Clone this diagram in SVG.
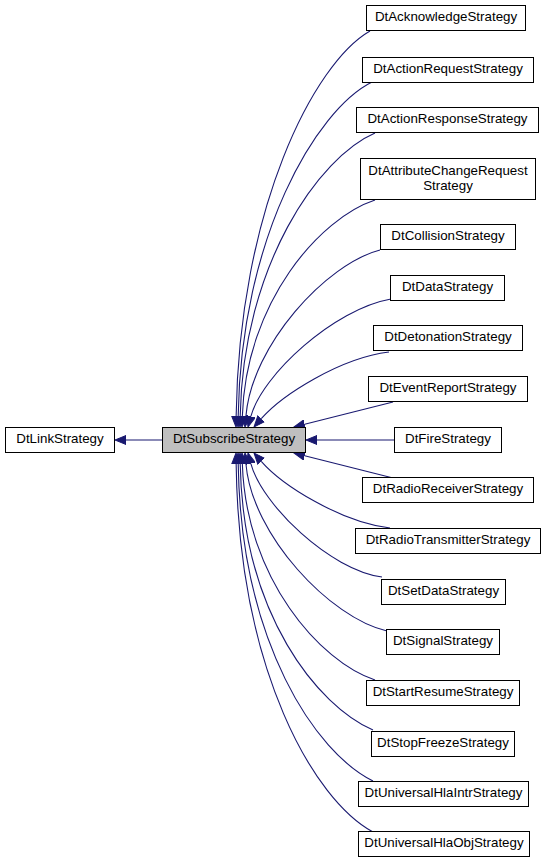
<svg xmlns="http://www.w3.org/2000/svg" width="547" height="864" viewBox="0 0 547 864">
<style>
.node rect{fill:#ffffff;stroke:#000000;stroke-width:1}
.node.cur rect{fill:#bfbfbf}
.node text{font-family:"Liberation Sans",Arial,sans-serif;font-size:13.33px;fill:#000000;text-anchor:middle}
.edges path{fill:none;stroke:#191970;stroke-width:1.1;marker-end:url(#arr)}
</style>
<defs>
<marker id="arr" markerUnits="userSpaceOnUse" viewBox="0 -5 12 10" refX="0" refY="0" markerWidth="12" markerHeight="10" orient="auto">
<path d="M0,-4.5 L11,0 L0,4.5 z" fill="#191970" stroke="#191970" stroke-width="1"/>
</marker>
</defs>
<rect width="547" height="864" fill="#ffffff"/>
<g class="edges">
<path d="M162,440 L126,440"/>
<path d="M370,31 C314,63 239,209 236.15,416"/>
<path d="M372,82 C316,110 241,237 238.2,416"/>
<path d="M375,133 C319,157 243,265 240.2,416"/>
<path d="M375,200 C320,218 246,302 242.35,416"/>
<path d="M380,250 C326,264 252,345 245.94,416.04"/>
<path d="M391,299 C334,309 262,375 250.86,416.37"/>
<path d="M389,352 C340,358 282,395 261.25,418.7"/>
<path d="M393,402 L304.67,424.3"/>
<path d="M394,440 L317,440"/>
<path d="M393,478 L304.67,455.7"/>
<path d="M390,528 C340,522 282,485 261.25,461.3"/>
<path d="M382,577 C330,570 262,505 250.86,463.6"/>
<path d="M387,631 C330,618 252,535 245.94,463.96"/>
<path d="M375,680 C320,662 246,578 242.35,464"/>
<path d="M373,730 C318,706 243,615 240.2,464"/>
<path d="M373,781 C316,753 241,643 238.2,464"/>
<path d="M373,832 C314,800 239,671 236.15,464"/>
</g>
<g id="DtLinkStrategy" class="node"><rect x="5.5" y="427.5" width="109" height="25"/><text x="60" y="443.3">DtLinkStrategy</text></g>
<g id="DtSubscribeStrategy" class="node cur"><rect x="162.5" y="427.5" width="143" height="25"/><text x="234" y="443.3">DtSubscribeStrategy</text></g>
<g id="DtAcknowledgeStrategy" class="node"><rect x="366.5" y="5.5" width="159" height="25"/><text x="446" y="21.3">DtAcknowledgeStrategy</text></g>
<g id="DtActionRequestStrategy" class="node"><rect x="362.5" y="57.5" width="171" height="25"/><text x="448" y="73.3">DtActionRequestStrategy</text></g>
<g id="DtActionResponseStrategy" class="node"><rect x="356.5" y="107.5" width="182" height="25"/><text x="447.5" y="123.3">DtActionResponseStrategy</text></g>
<g id="DtAttributeChangeRequestStrategy" class="node"><rect x="360.5" y="158.5" width="175" height="41"/><text x="448" y="174.5">DtAttributeChangeRequest</text><text x="448" y="189.5">Strategy</text></g>
<g id="DtCollisionStrategy" class="node"><rect x="380.5" y="224.5" width="135" height="25"/><text x="448" y="240.3">DtCollisionStrategy</text></g>
<g id="DtDataStrategy" class="node"><rect x="390.5" y="275.5" width="114" height="25"/><text x="447.5" y="291.3">DtDataStrategy</text></g>
<g id="DtDetonationStrategy" class="node"><rect x="373.5" y="325.5" width="149" height="25"/><text x="448" y="341.3">DtDetonationStrategy</text></g>
<g id="DtEventReportStrategy" class="node"><rect x="368.5" y="376.5" width="159" height="25"/><text x="448" y="392.3">DtEventReportStrategy</text></g>
<g id="DtFireStrategy" class="node"><rect x="394.5" y="427.5" width="107" height="25"/><text x="448" y="443.3">DtFireStrategy</text></g>
<g id="DtRadioReceiverStrategy" class="node"><rect x="362.5" y="477.5" width="171" height="25"/><text x="448" y="493.3">DtRadioReceiverStrategy</text></g>
<g id="DtRadioTransmitterStrategy" class="node"><rect x="355.5" y="528.5" width="185" height="25"/><text x="448" y="544.3">DtRadioTransmitterStrategy</text></g>
<g id="DtSetDataStrategy" class="node"><rect x="381.5" y="579.5" width="124" height="25"/><text x="443.5" y="595.3">DtSetDataStrategy</text></g>
<g id="DtSignalStrategy" class="node"><rect x="386.5" y="629.5" width="113" height="25"/><text x="443" y="645.3">DtSignalStrategy</text></g>
<g id="DtStartResumeStrategy" class="node"><rect x="366.5" y="680.5" width="153" height="25"/><text x="443" y="696.3">DtStartResumeStrategy</text></g>
<g id="DtStopFreezeStrategy" class="node"><rect x="371.5" y="731.5" width="143" height="25"/><text x="443" y="747.3">DtStopFreezeStrategy</text></g>
<g id="DtUniversalHlaIntrStrategy" class="node"><rect x="358.5" y="781.5" width="170" height="25"/><text x="443.5" y="797.3">DtUniversalHlaIntrStrategy</text></g>
<g id="DtUniversalHlaObjStrategy" class="node"><rect x="358.5" y="831.5" width="171" height="25"/><text x="444" y="847.3">DtUniversalHlaObjStrategy</text></g>
</svg>
